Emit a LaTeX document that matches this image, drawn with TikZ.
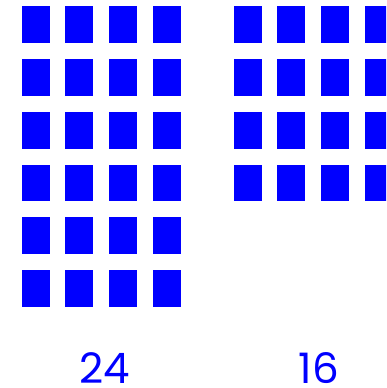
\documentclass[tikz,border=0pt]{standalone}
\usepackage{fontspec}
\setmainfont{Poppins}
\begin{document}
\begin{tikzpicture}[x=1pt,y=-1pt,
  cell/.style={fill=blue,draw=none,inner sep=0pt,minimum width=28pt,minimum height=36.7pt,anchor=north west},
  count/.style={text=blue,font=\fontsize{42}{42}\selectfont,anchor=base,inner sep=0pt,text depth=0pt}]
\path[use as bounding box,clip] (0,0) rectangle (386,388);
\foreach \i in {0,...,3}{
  \foreach \j in {0,...,5}{
    \node[cell] (L-\i-\j) at ({21.3+43.8*\i},{6+52.8*\j}) {};
  }
  \foreach \j in {0,...,3}{
    \node[cell] (R-\i-\j) at ({233.3+43.7*\i},{6+52.8*\j}) {};
  }
}
\node[count] (n24) at (105,383.3) {24};
\node[count] (n16) at (318.8,383.3) {16};
\end{tikzpicture}
\end{document}
